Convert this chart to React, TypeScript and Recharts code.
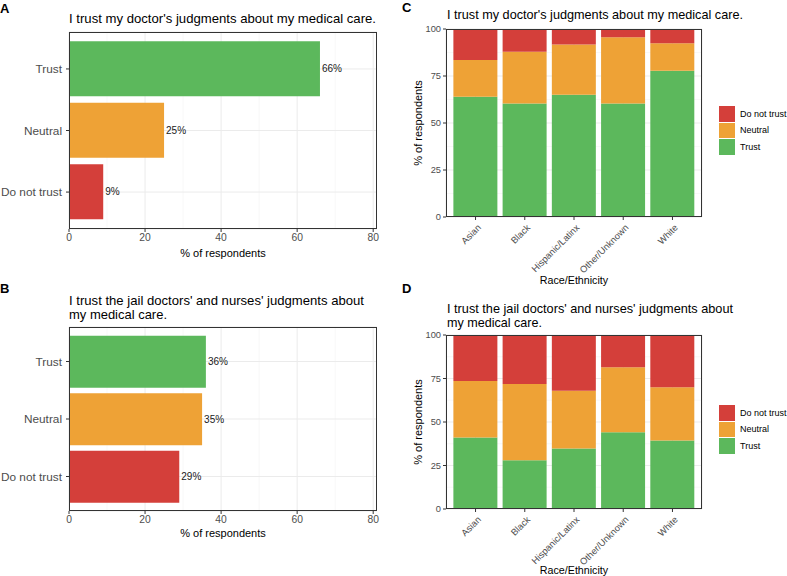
import React from "react";
import {
  BarChart,
  Bar,
  XAxis,
  YAxis,
  CartesianGrid,
  Cell,
  LabelList,
} from "recharts";

const RESPONSES = ["Trust", "Neutral", "Do not trust"];
const DOCTOR_OVERALL = [66, 25, 9];
const JAIL_OVERALL = [36, 35, 29];

const GROUPS = ["Asian", "Black", "Hispanic/Latinx", "Other/Unknown", "White"];
const DOCTOR_TRUST = [64, 60.4, 65, 60.4, 77.8];
const DOCTOR_NEUTRAL = [19.5, 27.5, 26.7, 35.2, 14.6];
const DOCTOR_DISTRUST = [16.5, 12.1, 8.3, 4.4, 7.6];
const JAIL_TRUST = [41.1, 28, 34.7, 44.1, 39.3];
const JAIL_NEUTRAL = [32.4, 43.8, 33.2, 37.3, 30.6];
const JAIL_DISTRUST = [26.5, 28.2, 32.1, 18.6, 30.1];

const PCT_TICKS = [0, 20, 40, 60, 80];
const PCT_MINOR = [10, 30, 50, 70];
const SHARE_TICKS = [0, 25, 50, 75, 100];
const SHARE_MINOR = [12.5, 37.5, 62.5, 87.5];

const TITLE_DOCTOR = ["I trust my doctor's judgments about my medical care."];
const TITLE_JAIL = [
  "I trust the jail doctors' and nurses' judgments about",
  "my medical care.",
];

const COLORS: Record<string, string> = {
  Trust: "#5CB85C",
  Neutral: "#EEA236",
  "Do not trust": "#D43F3A",
};

const FONT = '"Liberation Sans", Arial, Helvetica, sans-serif';
const BORDER = "#333333";

// title drawn as svg text, each line stretched to the width seen in the figure
function Title({ lines, x, baselines, size, widths }: { lines: string[]; x: number; baselines: number[]; size: number; widths: number[] }) {
  return (
    <svg width={400} height={60} style={{ position: "absolute", left: 0, top: 0, overflow: "visible" }}>
      {lines.map((t, i) => (
        <text key={t} x={x} y={baselines[i]} fontSize={size} fontFamily={FONT} fill="#000" textLength={widths[i]} lengthAdjust="spacingAndGlyphs">
          {t}
        </text>
      ))}
    </svg>
  );
}

// category tick that never wraps
function CatTick({ x, y, payload }: any) {
  return (
    <text x={x - 2} y={y} textAnchor="end" dominantBaseline="central" fontSize={11.8} fill="#4D4D4D" fontFamily={FONT}>
      {payload.value}
    </text>
  );
}

interface HBarProps {
  top: number;
  letter: string;
  letterTop: number;
  title: string[];
  titleBase: number[];
  titleWidths: number[];
  values: number[];
  marginTop: number;
  plotHeight: number;
  axisHeight: number;
}

function OverallPanel({ top, letter, letterTop, title, titleBase, titleWidths, values, marginTop, plotHeight, axisHeight }: HBarProps) {
  const data = RESPONSES.map((name, i) => ({ name, value: values[i] }));
  const width = 400;
  const left = 3;
  const yw = 66;
  const right = 23;
  const pad = plotHeight * 0.6 / 3.2 - plotHeight / 3.2 / 2; // ggplot's 0.6 expansion
  const height = marginTop + plotHeight + axisHeight;
  return (
    <div style={{ position: "absolute", left: 0, top, width, height }}>
      <div style={{ position: "absolute", left: 0, top: letterTop, fontWeight: 700, fontSize: 13, lineHeight: "13px", fontFamily: FONT }}>{letter}</div>
      <BarChart
        width={width}
        height={height}
        data={data}
        layout="vertical"
        margin={{ top: marginTop, right, left, bottom: 0 }}
        barCategoryGap="5%"
      >
        <CartesianGrid stroke="#F4F4F4" strokeWidth={0.6} horizontal={false} verticalValues={PCT_MINOR} />
        <CartesianGrid stroke="#EBEBEB" verticalValues={PCT_TICKS} />
        <XAxis
          type="number"
          domain={[0, 81]}
          ticks={PCT_TICKS}
          tick={{ fill: "#4D4D4D", fontSize: 10.3, fontFamily: FONT }}
          tickSize={3}
          tickLine={{ stroke: BORDER }}
          axisLine={false}
          height={axisHeight}
          label={{ value: "% of respondents", position: "insideBottom", offset: 5, fontSize: 11, fill: "#000", fontFamily: FONT }}
        />
        <YAxis
          type="category"
          dataKey="name"
          width={yw}
          tick={<CatTick />}
          tickSize={3}
          tickLine={{ stroke: BORDER }}
          axisLine={false}
          padding={{ top: pad, bottom: pad }}
        />
        <Bar dataKey="value" isAnimationActive={false}>
          {data.map((d) => <Cell key={d.name} fill={COLORS[d.name]} />)}
          <LabelList
            dataKey="value"
            position="right"
            offset={2}
            formatter={(v: any) => `${v}%`}
            style={{ fontSize: 10, fill: "#1A1A1A", fontFamily: FONT }}
          />
        </Bar>
      </BarChart>
      <div style={{ position: "absolute", left: left + yw, top: marginTop, width: width - left - yw - right, height: plotHeight, border: `1px solid ${BORDER}`, boxSizing: "border-box", pointerEvents: "none" }} />
      <Title lines={title} x={left + yw} baselines={titleBase} size={13.1} widths={titleWidths} />
    </div>
  );
}

function SlantTick({ x, y, payload }: any) {
  return (
    <g transform={`translate(${x},${y + 3})`}>
      <text transform="rotate(-45)" textAnchor="end" dy="0.7em" dx={2} fontSize={9.3} fill="#4D4D4D" fontFamily={FONT}>
        {payload.value}
      </text>
    </g>
  );
}

function YTitle({ viewBox }: any) {
  const cx = viewBox.x + 12;
  const cy = viewBox.y + viewBox.height / 2;
  return (
    <text x={cx} y={cy} transform={`rotate(-90, ${cx}, ${cy})`} textAnchor="middle" dominantBaseline="central" fontSize={11} fontFamily={FONT} fill="#000">
      % of respondents
    </text>
  );
}

interface StackProps {
  top: number;
  letter: string;
  letterTop: number;
  title: string[];
  titleBase: number[];
  titleWidths: number[];
  trust: number[];
  neutral: number[];
  distrust: number[];
  marginTop: number;
  plotHeight: number;
  axisHeight: number;
  labelOffset: number;
}

function GroupPanel({ top, letter, letterTop, title, titleBase, titleWidths, trust, neutral, distrust, marginTop, plotHeight, axisHeight, labelOffset }: StackProps) {
  const data = GROUPS.map((g, i) => ({ group: g, Trust: trust[i], Neutral: neutral[i], "Do not trust": distrust[i] }));
  const width = 397;
  const left = 16;
  const yw = 40;
  const right = 85;
  const plotWidth = width - left - yw - right;
  const pad = plotWidth * 0.6 / 5.2 - plotWidth / 5.2 / 2;
  const height = marginTop + plotHeight + axisHeight;
  return (
    <div style={{ position: "absolute", left: 390, top, width, height }}>
      <div style={{ position: "absolute", left: 12, top: letterTop, fontWeight: 700, fontSize: 13, lineHeight: "13px", fontFamily: FONT }}>{letter}</div>
      <BarChart
        width={width}
        height={height}
        data={data}
        margin={{ top: marginTop, right, left, bottom: 0 }}
        barCategoryGap="5%"
      >
        <CartesianGrid stroke="#F4F4F4" strokeWidth={0.6} vertical={false} horizontalValues={SHARE_MINOR} />
        <CartesianGrid stroke="#EBEBEB" horizontalValues={SHARE_TICKS} />
        <XAxis
          dataKey="group"
          interval={0}
          tick={<SlantTick />}
          tickSize={3}
          tickLine={{ stroke: BORDER }}
          axisLine={false}
          height={axisHeight}
          padding={{ left: pad, right: pad }}
          label={{ value: "Race/Ethnicity", position: "insideBottom", offset: labelOffset, fontSize: 10.7, fill: "#000", fontFamily: FONT }}
        />
        <YAxis
          type="number"
          domain={[0, 100]}
          ticks={SHARE_TICKS}
          width={yw}
          tick={{ fill: "#4D4D4D", fontSize: 9.3, fontFamily: FONT }}
          tickSize={3}
          tickLine={{ stroke: BORDER }}
          axisLine={false}
          label={<YTitle />}
        />
        <Bar dataKey="Trust" stackId="s" fill={COLORS.Trust} isAnimationActive={false} />
        <Bar dataKey="Neutral" stackId="s" fill={COLORS.Neutral} isAnimationActive={false} />
        <Bar dataKey="Do not trust" stackId="s" fill={COLORS["Do not trust"]} isAnimationActive={false} />
      </BarChart>
      <div style={{ position: "absolute", left: left + yw, top: marginTop, width: plotWidth, height: plotHeight, border: `1px solid ${BORDER}`, boxSizing: "border-box", pointerEvents: "none" }} />
      <Title lines={title} x={left + yw + 1} baselines={titleBase} size={12.7} widths={titleWidths} />
      {/* legend, top to bottom as in the stack */}
      <div style={{ position: "absolute", left: 329, top: marginTop + plotHeight / 2 - 17.5, fontFamily: FONT, fontSize: 9 }}>
        {[...RESPONSES].reverse().map((r) => (
          <div key={r} style={{ display: "flex", alignItems: "center", height: 16.5 }}>
            <span style={{ display: "block", width: 16, height: 15.5, background: COLORS[r], marginRight: 5 }} />
            <span style={{ color: "#000", whiteSpace: "nowrap" }}>{r}</span>
          </div>
        ))}
      </div>
    </div>
  );
}

export default function App() {
  return (
    <div style={{ position: "absolute", left: 0, top: 0, width: 787, height: 576, background: "#fff", overflow: "hidden", fontFamily: FONT }}>
      <OverallPanel top={0} letter="A" letterTop={1.5} title={TITLE_DOCTOR} titleBase={[22.7]} titleWidths={[307]} values={DOCTOR_OVERALL} marginTop={32} plotHeight={197} axisHeight={33} />
      <OverallPanel top={290} letter="B" letterTop={-8.5} title={TITLE_JAIL} titleBase={[14.5, 29]} titleWidths={[295, 98]} values={JAIL_OVERALL} marginTop={37} plotHeight={184} axisHeight={31} />
      <GroupPanel top={0} letter="C" letterTop={0.5} title={TITLE_DOCTOR} titleBase={[19.2]} titleWidths={[296]} trust={DOCTOR_TRUST} neutral={DOCTOR_NEUTRAL} distrust={DOCTOR_DISTRUST} marginTop={29} plotHeight={188} axisHeight={73} labelOffset={6} />
      <GroupPanel top={290} letter="D" letterTop={-8.5} title={TITLE_JAIL} titleBase={[23, 37]} titleWidths={[286, 95]} trust={JAIL_TRUST} neutral={JAIL_NEUTRAL} distrust={JAIL_DISTRUST} marginTop={45} plotHeight={174} axisHeight={67} labelOffset={2} />
    </div>
  );
}
